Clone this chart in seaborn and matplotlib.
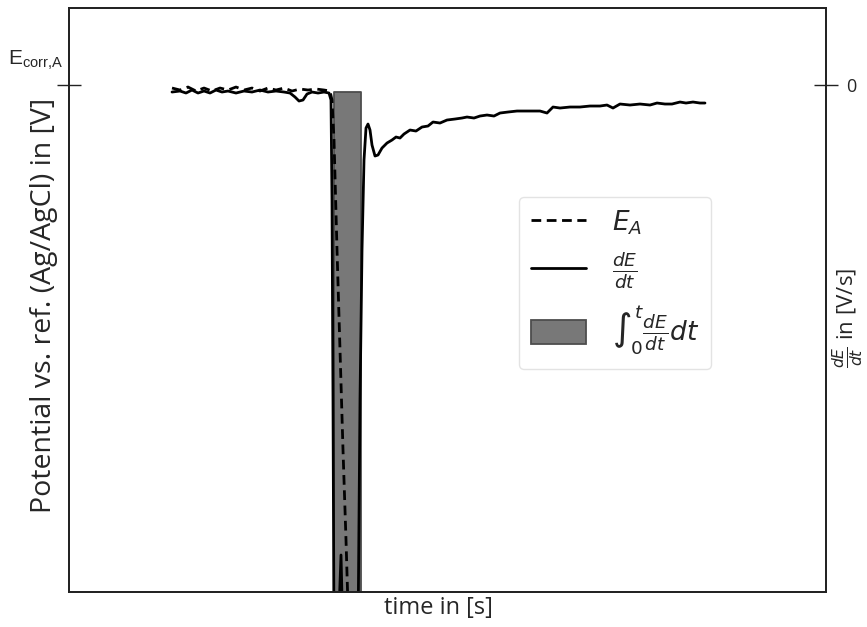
import matplotlib
matplotlib.use("Agg")
import matplotlib.pyplot as plt
import seaborn as sns
import pandas as pd
from matplotlib.patches import Patch
from matplotlib.lines import Line2D

# time in s, potential relative to E_corr,A in mV
t_E = [10.3, 11.1, 11.9, 12.7, 13.5, 14.3, 15.1, 15.9, 16.7, 17.5,
       18.3, 19.1, 19.9, 20.7, 21.5, 22.3, 23.1, 23.9, 24.7, 25.5,
       26.1, 26.3, 26.5, 26.8, 27.1, 27.4, 27.7, 28.0]
E_A = [-3, -5, -2, -6, -3, -6, -3, -5, -2, -5,
       -3, -6, -3, -5, -3, -6, -4, -5, -4, -5,
       -6, -15, -55, -165, -265, -365, -455, -555]

# time derivative of the potential
t_d = [10.3, 11.1, 11.7, 12.3, 12.9, 13.5, 14.1, 14.7, 15.3, 15.9,
       16.7, 17.5, 18.3, 19.1, 19.9, 20.7, 21.5, 22.1, 22.6, 23.0,
       23.4, 23.8, 24.3, 24.9, 25.5, 26.0, 26.2, 26.3, 26.4, 26.5,
       26.9, 27.2, 27.4, 28.9, 29.1, 29.3, 29.5, 29.7, 29.9, 30.1,
       30.3, 30.6, 30.9, 31.3, 31.8, 32.3, 32.7, 33.1, 33.5, 34.1,
       34.7, 35.3, 35.9, 36.4, 37.1, 37.8, 38.6, 39.3, 39.8, 40.5,
       41.1, 41.8, 42.5, 43.1, 43.9, 44.8, 45.6, 46.3, 47.1, 47.8,
       48.4, 49.1, 50.1, 51.1, 52.1, 53.1, 53.8, 54.4, 55.1, 56.1,
       57.1, 58.1, 58.8, 59.6, 60.3, 61.1, 61.7, 62.4, 63.1, 63.6]
dEdt = [-7, -6, -8, -5, -8, -6, -8, -5, -7, -6,
        -8, -6, -7, -5, -7, -6, -7, -8, -12, -16,
        -15, -9, -7, -8, -7, -8, -15, -115, -315, -555,
        -555, -470, -555, -555, -315, -165, -75, -43, -39, -45,
        -60, -71, -70, -63, -58, -55, -52, -53, -49, -45,
        -46, -42, -41, -37, -38, -35, -34, -33, -32, -33,
        -31, -30, -31, -28, -27, -26, -26, -26, -26, -28,
        -22, -23, -22, -22, -21, -21, -20, -23, -19, -20,
        -19, -20, -18, -19, -19, -17, -18, -17, -18, -18]

# integration window and its extent
t_int = [26.5, 29.2]
int_top = -7
int_bottom = -600

x_lim = (0, 75.7)
y_lim = (-507, 77)

sns.set_style("white")
plt.rcParams["font.family"] = ["Open Sans", "DejaVu Sans"]
plt.rcParams["mathtext.fontset"] = "dejavusans"

fig = plt.figure(figsize=(8.67, 6.27), dpi=100)
ax = fig.add_axes([0.0796, 0.0558, 0.8731, 0.9314])
ax2 = ax.twinx()

df_E = pd.DataFrame({"t": t_E, "E": E_A})
df_d = pd.DataFrame({"t": t_d, "d": dEdt})

ax.fill_between(t_int, [int_top, int_top], [int_bottom, int_bottom],
                facecolor=(0.47, 0.47, 0.47), edgecolor=(0.3, 0.3, 0.3),
                linewidth=1.3, zorder=1)
sns.lineplot(data=df_d, x="t", y="d", ax=ax, color="black", lw=2.0,
             sort=False, estimator=None, zorder=2)
sns.lineplot(data=df_E, x="t", y="E", ax=ax, color="black", lw=2.0,
             linestyle=(0, (3.5, 2)), sort=False, estimator=None, zorder=3)

for a in (ax, ax2):
    a.set_xlim(*x_lim)
    a.set_ylim(*y_lim)
    for s in a.spines.values():
        s.set_color("#222222")
        s.set_linewidth(1.3)

ax.set_xticks([])
ax.set_yticks([0])
ax.set_yticklabels([""])
ax.tick_params(axis="y", direction="inout", length=17, width=1.0, color="#222222")
ax.annotate(r"$\mathregular{E_{corr{,}A}}$", xy=(0, 0), xycoords=("axes fraction", "data"),
            xytext=(-61, 25), textcoords="offset pixels", fontsize=15,
            family=["Liberation Sans"], va="center", ha="left")

ax2.set_yticks([0])
ax2.set_yticklabels(["0"])
ax2.tick_params(axis="y", direction="inout", length=17, width=1.0, color="#222222",
                labelsize=13, pad=6)

ax.set_xlabel("time in [s]", fontsize=17)
ax.xaxis.set_label_coords(0.4875, -0.006)
ax.set_ylabel("Potential vs. ref. (Ag/AgCl) in [V]", fontsize=20.5)
ax.yaxis.set_label_coords(-0.0145, 0.49)
ax2.set_ylabel(r"$\frac{dE}{dt}$ in [V/s]", fontsize=16)
ax2.yaxis.set_label_coords(1.006, 0.469)

handles = [
    Line2D([], [], color="black", lw=2.0, linestyle=(0, (3.5, 2))),
    Line2D([], [], color="black", lw=2.0),
    Patch(facecolor=(0.47, 0.47, 0.47), edgecolor=(0.3, 0.3, 0.3), linewidth=1.3),
]
labels = [r"$E_A$", r"$\frac{dE}{dt}$", r"$\int_0^t\frac{dE}{dt}dt$"]
leg = ax.legend(handles, labels, loc="upper left", bbox_to_anchor=(0.594, 0.6764),
                borderaxespad=0, fontsize=19, handlelength=2.1, handleheight=1.0,
                labelspacing=0.5, borderpad=0.45, handletextpad=1.0, frameon=True)
leg.get_frame().set_edgecolor("#dddddd")

fig.savefig("out.png", dpi=100)
